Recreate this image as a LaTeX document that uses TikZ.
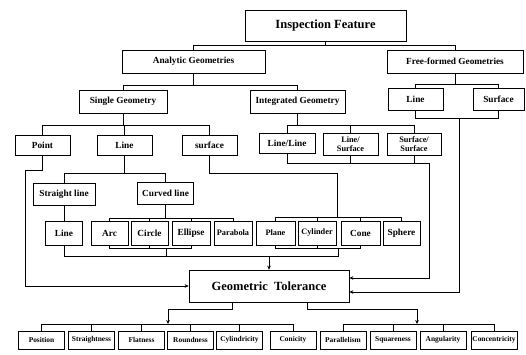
\documentclass[tikz,border=0pt]{standalone}
\usepackage{fontspec}
\setmainfont{Liberation Serif}
\usetikzlibrary{arrows.meta,shadows}
\begin{document}
\begin{tikzpicture}[x=1pt,y=-1pt,
  box/.style={draw, line width=0.7pt, fill=white, inner sep=1pt, align=center,
    drop shadow={shadow xshift=0.9pt, shadow yshift=-0.9pt, fill=black, opacity=0.85}},
  ln/.style={draw, line width=0.65pt},
  arr/.style={draw, line width=0.65pt, -{Stealth[length=4pt,width=3.6pt]}},
  fA/.style={font=\bfseries\fontsize{12.5}{14}\selectfont},
  fB/.style={font=\bfseries\fontsize{9.3}{10}\selectfont},
  fC/.style={font=\bfseries\fontsize{8.3}{8.8}\selectfont},
  fD/.style={font=\bfseries\fontsize{7.4}{8}\selectfont}]
\useasboundingbox (0,0) rectangle (526,355);
% top levels
\node[box,fA,minimum width=161pt,minimum height=31pt] (IF) at (325.5,25.5) {Inspection Feature};
\node[box,fB,minimum width=143pt,minimum height=23pt] (AG) at (193.5,61.5) {Analytic Geometries};
\node[box,fB,minimum width=136pt,minimum height=23pt] (FG) at (455,61.5) {Free-formed Geometries};
\node[box,fB,minimum width=88pt,minimum height=23pt] (SG) at (123,101.5) {Single Geometry};
\node[box,fB,minimum width=95pt,minimum height=23pt] (IG) at (297.5,101.5) {Integrated Geometry};
\node[box,fB,minimum width=55pt,minimum height=22pt] (FL) at (415.5,99) {Line};
\node[box,fB,minimum width=51pt,minimum height=22pt] (FS) at (498.5,99) {Surface};
% third level
\node[box,fB,minimum width=55pt,minimum height=20pt] (Pt) at (42.5,145) {Point};
\node[box,fB,minimum width=55pt,minimum height=20pt] (Ln) at (124.5,145) {Line};
\node[box,fB,minimum width=55pt,minimum height=20pt] (Sf) at (209.5,145) {surface};
\node[box,fB,minimum width=56pt,minimum height=20pt] (LL) at (287,143) {Line/Line};
\node[box,fC,minimum width=55pt,minimum height=22pt] (LS) at (350.5,144) {Line/\\Surface};
\node[box,fC,minimum width=54pt,minimum height=22pt] (SS) at (414,144) {Surface/\\Surface};
% line types
\node[box,fB,minimum width=62pt,minimum height=22pt] (St) at (64,194) {Straight line};
\node[box,fB,minimum width=56pt,minimum height=22pt] (Cv) at (165.5,193) {Curved line};
% primitives
\node[box,fB,minimum width=37pt,minimum height=24pt] (L2) at (64,233) {Line};
\node[box,fB,minimum width=37pt,minimum height=24pt] (Arc) at (109.5,233) {Arc};
\node[box,fB,minimum width=37pt,minimum height=24pt] (Cir) at (149.5,233) {Circle};
\node[box,fB,minimum width=38pt,minimum height=24pt] (Ell) at (191,233) {Ellipse};
\node[box,fC,minimum width=38pt,minimum height=24pt] (Par) at (233,233) {Parabola};
\node[box,fC,minimum width=39pt,minimum height=24pt] (Pl) at (275.5,233) {Plane};
\node[box,fC,minimum width=38pt,minimum height=24pt] (Cy) at (317,233) {Cylinder};
\node[box,fB,minimum width=39pt,minimum height=24pt] (Co) at (360.5,233) {Cone};
\node[box,fB,minimum width=37pt,minimum height=24pt] (Sp) at (401.5,233) {Sphere};
% tolerance
\node[box,fA,minimum width=160pt,minimum height=32pt] (GT) at (269,286) {Geometric\ \ Tolerance};
% bottom row
\foreach \n/\x/\t in {Po/41.5/Position, Sr/91.5/Straightness, Fl/141.5/Flatness, Ro/190.5/Roundness, Cl/239.5/Cylindricity, Cn/293/Conicity, Pa/343/Parallelism, Sq/393/Squareness, An/443/Angularity, Cc/494/Concentricity}
  \node[box,fD,minimum width=46pt,minimum height=18pt,inner sep=0.5pt] (\n) at (\x,340) {\t};
% connectors level 1
\draw[ln] (IF.south) -- (IF.south |- 0,45);
\draw[ln] (AG.north) -- (AG.north |- 0,45) -- (FG.north |- 0,45) -- (FG.north);
\draw[ln] (AG.south) -- (AG.south |- 0,85);
\draw[ln] (SG.north) -- (SG.north |- 0,85) -- (IG.north |- 0,85) -- (IG.north);
\draw[ln] (FG.south) -- (FG.south |- 0,84);
\draw[ln] (FL.north) -- (FL.north |- 0,84) -- (FS.north |- 0,84) -- (FS.north);
% single geometry children
\draw[ln] (SG.south) -- (SG.south |- 0,125);
\draw[ln] (Pt.north) -- (Pt.north |- 0,125) -- (Sf.north |- 0,125) -- (Sf.north);
\draw[ln] (Ln.north) -- (Ln.north |- 0,125);
% integrated children
\draw[ln] (IG.south) -- (IG.south |- 0,125);
\draw[ln] (LL.north) -- (LL.north |- 0,125) -- (SS.north |- 0,125) -- (SS.north);
\draw[ln] (LS.north) -- (LS.north |- 0,125);
% line children
\draw[ln] (Ln.south) -- (Ln.south |- 0,173);
\draw[ln] (St.north) -- (St.north |- 0,173) -- (Cv.north |- 0,173) -- (Cv.north);
\draw[ln] (L2.north |- St.south) -- (L2.north);
% curved children
\draw[ln] (Cv.south) -- (Cv.south |- 0,218);
\draw[ln] (Arc.north) -- (Arc.north |- 0,218) -- (Par.north |- 0,218) -- (Par.north);
\foreach \n in {Cir,Ell} \draw[ln] (\n.north) -- (\n.north |- 0,218);
% surface children
\coordinate (sfk) at (337,173);
\draw[ln] (Sf.south) -- (Sf.south |- sfk) -- (sfk) -- (337,217);
\draw[ln] (Pl.north) -- (Pl.north |- 0,217) -- (Sp.north |- 0,217) -- (Sp.north);
\foreach \n in {Cy,Co} \draw[ln] (\n.north) -- (\n.north |- 0,217);
% into geometric tolerance (top)
\draw[ln] (Arc.south) -- (Arc.south |- 0,248) -- (Ell.south |- 0,248) -- (Ell.south);
\draw[ln] (Cir.south) -- (Cir.south |- 0,248);
\draw[ln] (Pl.south) -- (Pl.south |- 0,248) -- (Co.south |- 0,248) -- (Co.south);
\draw[ln] (Cy.south) -- (Cy.south |- 0,248);
\draw[ln] (L2.south) -- (L2.south |- 0,256) -- (338,256) -- (338,248);
\draw[ln] (166,248) -- (166,256);
\draw[arr] (GT.north |- 0,256) -- (GT.north);
% point to tolerance
\draw[arr] (Pt.south) -- (Pt.south |- 0,170) -- (25,170) -- (25,286) -- (GT.west);
% integrated children to tolerance
\coordinate (igk) at (429,163);
\draw[ln] (LL.south) -- (LL.south |- igk) -- (igk);
\foreach \n in {LS,SS} \draw[ln] (\n.south) -- (\n.south |- igk);
\draw[arr] (igk) -- (429,278) -- (GT.east |- 0,278);
% free-formed children to tolerance
\draw[ln] (FL.south) -- (FL.south |- 0,118) -- (FS.south |- 0,118) -- (FS.south);
\draw[arr] (459,118) -- (459,292) -- (GT.east |- 0,292);
% tolerance to bottom row
\draw[arr] (GT.south -| 232,0) -- (232,309) -- (168,309) -- (168,324);
\draw[ln] (Po.north) -- (Po.north |- 0,324) -- (Cn.north |- 0,324) -- (Cn.north);
\foreach \n in {Sr,Fl,Ro,Cl} \draw[ln] (\n.north) -- (\n.north |- 0,324);
\draw[arr] (GT.south -| 307,0) -- (307,309) -- (417,309) -- (417,324);
\draw[ln] (Pa.north) -- (Pa.north |- 0,324) -- (Cc.north |- 0,324) -- (Cc.north);
\foreach \n in {Sq,An} \draw[ln] (\n.north) -- (\n.north |- 0,324);
\end{tikzpicture}
\end{document}
